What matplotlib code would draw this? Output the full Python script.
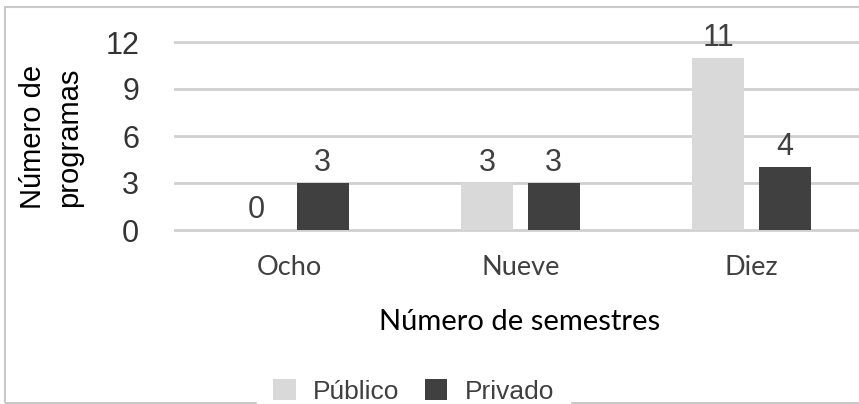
import matplotlib
matplotlib.use("Agg")
import matplotlib.pyplot as plt
from matplotlib.patches import Rectangle
import numpy as np

categories = ["Ocho", "Nueve", "Diez"]
publico = [0, 3, 11]
privado = [3, 3, 4]
series_names = ["Público", "Privado"]
yticks = [0, 3, 6, 9, 12]

W, H = 859, 404
fig = plt.figure(figsize=(W / 100, H / 100), dpi=100)

# figure border
fig.patches.append(Rectangle((5 / W, 1.5 / H), 1.2, 1 - 8.5 / H, transform=fig.transFigure,
                             fill=False, edgecolor="#c9c9c9", linewidth=1.5, zorder=0))

ppu = 188 / 12.0
pad = 0.12
ax_left = 174 / W
ax_bottom = 1 - (230 + pad * ppu) / H
ax_h = (188 + 2 * pad * ppu) / H
ax = fig.add_axes([ax_left, ax_bottom, 1 - ax_left, ax_h])
ax.set_facecolor("none")

x = np.arange(len(categories))
bw = 0.225
off = 0.143
b1 = ax.bar(x - off, publico, bw, color="#d9d9d9", zorder=3, label=series_names[0])
b2 = ax.bar(x + off, privado, bw, color="#404040", zorder=3, label=series_names[1])

for bars in (b1, b2):
    ax.bar_label(bars, padding=3.5, fontsize=22, color="#404040", family="Liberation Sans")

ax.set_xlim(-0.5, (W - 289.5) / 231)
ax.set_ylim(-pad, 12 + pad)
ax.set_yticks(yticks)
ax.set_yticklabels([str(t) for t in yticks])
ax.set_xticks(x)
ax.set_xticklabels(categories)
ax.grid(axis="y", color="#d0d0d0", linewidth=2, zorder=0)
ax.set_axisbelow(True)
for s in ax.spines.values():
    s.set_visible(False)
ax.tick_params(axis="both", length=0)
ax.tick_params(axis="y", pad=25, labelsize=22, labelcolor="#333333")
for t in ax.get_yticklabels():
    t.set_family("Liberation Sans")
ax.tick_params(axis="x", pad=17, labelsize=19.5, labelcolor="#404040")
for t in ax.get_xticklabels():
    t.set_family("Lato")

fig.text(51 / W, 1 - 137 / H, "Número de\nprogramas", rotation=90, ha="center", va="center",
         fontsize=21, family="Liberation Sans", color="black", linespacing=1.4,
         multialignment="center")
fig.text(520 / W, 1 - 322 / H, "Número de semestres", ha="center", va="center",
         fontsize=21, family="Lato", color="black")

leg = fig.legend(handles=[b1, b2], loc="center", bbox_to_anchor=(413.5 / W, 1 - 391.5 / H),
                 ncol=2, frameon=True, fancybox=False, framealpha=1, edgecolor="white",
                 facecolor="white", prop={"family": "Liberation Sans", "size": 19},
                 handlelength=0.87, handleheight=0.87, handletextpad=0.66,
                 columnspacing=0.95, borderpad=0.6, borderaxespad=0)
for t in leg.get_texts():
    t.set_color("#404040")
leg.set_zorder(5)

fig.savefig("out.png", dpi=100)
